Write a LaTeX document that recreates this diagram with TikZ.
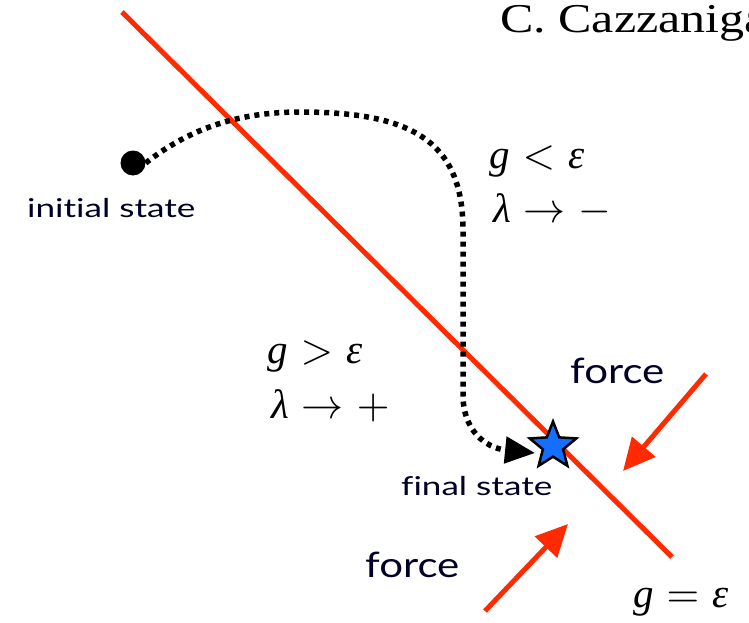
\documentclass[tikz,border=0pt]{standalone}
\usepackage{fontspec}
\setmainfont{Liberation Serif}
\newfontfamily\labelfont[Ligatures=NoCommon]{Lato}
\usetikzlibrary{arrows.meta,shapes.geometric}
\definecolor{cred}{RGB}{255,42,0}
\definecolor{cblue}{RGB}{20,110,255}
\newcommand\hsq[2]{\scalebox{#1}[1]{#2}}
\newcommand\mop[1]{\scalebox{4.2}{\fontsize{10}{12}\selectfont$#1$}}
\newcommand\gap{\hspace{13pt}}
\tikzset{
  lbl/.style={anchor=base west, inner sep=0, font=\labelfont\fontsize{26}{30}\selectfont, text=black!85!blue},
  frc/.style={anchor=base west, inner sep=0, font=\labelfont\fontsize{35}{38}\selectfont, text=black!85!blue},
  mth/.style={anchor=base west, inner sep=0, font=\fontsize{41}{44}\selectfont},
  forcearrow/.style={draw=cred, line width=5pt, -{Triangle[length=32pt,width=30pt]}},
  pathline/.style={draw=black, line width=5.5pt, dash pattern=on 5pt off 5pt, -{Triangle[length=30pt,width=26pt]}},
}
\begin{document}
\begin{tikzpicture}[x=1pt,y=-1pt]
\useasboundingbox (0,0) rectangle (749,623);
% constraint line
\coordinate (la) at (122,12);
\coordinate (lb) at (672,557);
\draw[cred, line width=5pt] (la) -- (lb);
% author
\node[anchor=base west, font=\fontsize{41}{44}\selectfont, inner sep=0] (auth) at (500,33) {\hsq{1.22}{C. Cazzaniga}};
% initial state
\node[circle, fill=black, minimum size=25pt, inner sep=0] (init) at (133,163) {};
\node[lbl] (initlbl) at (27,217) {\hsq{1.35}{initial state}};
% final state star
\node[star, star points=5, star point ratio=2.3, minimum size=49pt, inner sep=0, fill=cblue, draw=black, line width=2.5pt] (final) at (553,446) {};
\node[lbl] (finallbl) at (401,495) {\hsq{1.35}{final state}};
\coordinate (tip) at (535,453);
% path
\draw[pathline] (init.east) .. controls (190,128) and (240,112) .. (300,112)
  .. controls (410,112) and (463,140) .. (463,230)
  -- (463,395) .. controls (463,430) and (485,448) .. (tip);
% forces
\coordinate (f1s) at (706,374);
\coordinate (f1e) at (623,471);
\coordinate (f2s) at (485,611);
\coordinate (f2e) at (568,524);
\draw[forcearrow] (f1s) -- (f1e);
\draw[forcearrow] (f2s) -- (f2e);
\node[frc] (force1) at (570,383) {\hsq{1.2}{force}};
\node[frc] (force2) at (365,577) {\hsq{1.2}{force}};
% math labels
\node[mth] (lt1) at (489,168) {\textit{g}\gap\mop{<}\gap\textit{ε}};
\node[mth] (lt2) at (493,222) {\textit{λ}\gap\mop{\rightarrow}\gap\mop{-}};
\node[mth] (gt1) at (267,363) {\textit{g}\gap\mop{>}\gap\textit{ε}};
\node[mth] (gt2) at (271,418) {\textit{λ}\gap\mop{\rightarrow}\gap\mop{+}};
\node[mth] (eq) at (633,607) {\textit{g}\gap\mop{=}\gap\textit{ε}};
\end{tikzpicture}
\end{document}
